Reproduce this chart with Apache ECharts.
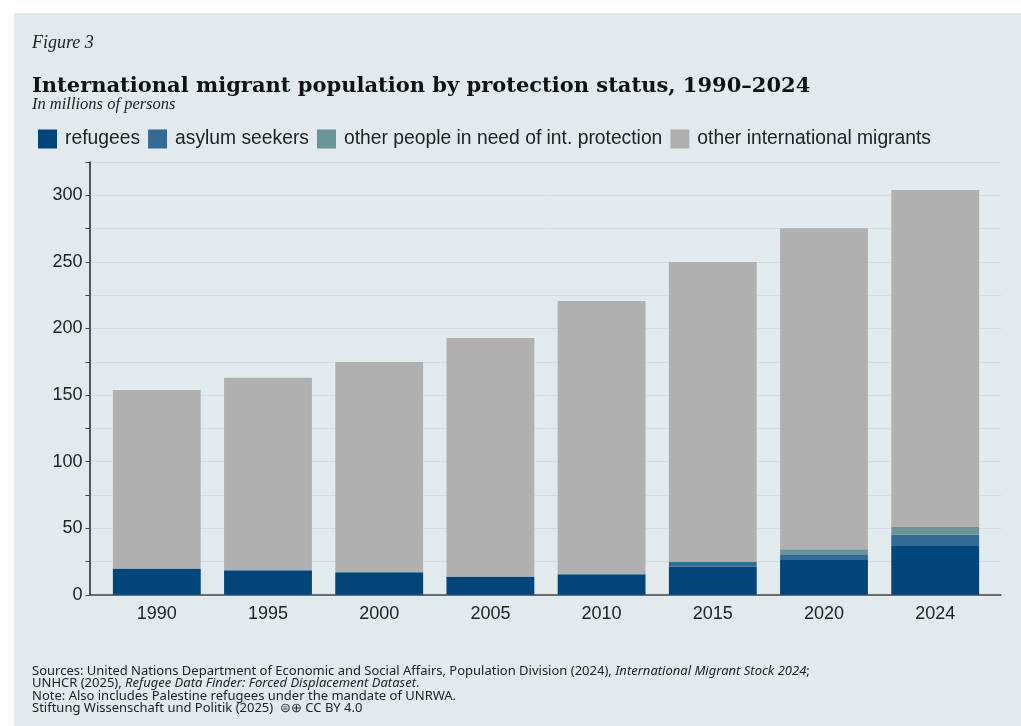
<!DOCTYPE html>
<html><head><meta charset="utf-8">
<script src="https://cdn.jsdelivr.net/npm/echarts@6/dist/echarts.min.js"></script>
<style>
html,body{margin:0;padding:0;background:#ffffff;}
#panel{position:absolute;left:14px;top:13px;width:1007px;height:713px;background:#e2eaee;}
#chart{position:absolute;left:0;top:0;width:1021px;height:726px;}
</style></head>
<body>
<div id="panel"></div>
<div id="chart"></div>
<script>
const years = ['1990','1995','2000','2005','2010','2015','2020','2024'];
const refugees = [19.5, 18.3, 16.6, 13.3, 15.3, 21.1, 26.1, 36.6];
const asylumSeekers = [0.3, 0.4, 0.5, 0.4, 0.6, 3.5, 4.3, 8.5];
const otherNeedProtection = [0, 0, 0, 0, 0, 0, 3.8, 5.8];
const totalMigrants = [153.8, 163.0, 174.8, 192.8, 220.6, 249.9, 275.2, 304.0];
const otherMigrants = totalMigrants.map((t, i) =>
  +(t - refugees[i] - asylumSeekers[i] - otherNeedProtection[i]).toFixed(1));
const yTicks = [0, 50, 100, 150, 200, 250, 300];

const chart = echarts.init(document.getElementById('chart'), null, {renderer: 'canvas'});
const serif = '"Liberation Serif", serif';
const dserif = '"DejaVu Serif", serif';
const sans = '"Liberation Sans", Arial, sans-serif';
const foot = '"Noto Sans", "Open Sans", sans-serif';
const colors = ['#01457a', '#346b94', '#6a9498', '#b0b0b0'];

const mk = (name, data, i) => ({
  name, type: 'bar', stack: 'total', data, xAxisIndex: 1, yAxisIndex: 1,
  barWidth: '79%', itemStyle: {color: colors[i]}, emphasis: {disabled: true}
});

chart.setOption({
  animation: false,
  color: colors,
  graphic: [
    {type: 'text', x: 32, y: 43.5, style: {text: 'Figure 3', font: 'italic 18px ' + serif, fill: '#222', verticalAlign: 'middle'}},
    {type: 'text', x: 32, y: 86.5, style: {text: 'International migrant population by protection status, 1990–2024', font: 'bold 21px ' + dserif, fill: '#111', verticalAlign: 'middle'}},
    {type: 'text', x: 32, y: 105, style: {text: 'In millions of persons', font: 'italic 16.5px ' + serif, fill: '#222', verticalAlign: 'middle'}},
    {type: 'text', x: 32, y: 665, style: {
      text: 'Sources: United Nations Department of Economic and Social Affairs, Population Division (2024), {i|International Migrant Stock 2024};\nUNHCR (2025), {i|Refugee Data Finder: Forced Displacement Dataset}.\nNote: Also includes Palestine refugees under the mandate of UNRWA.\nStiftung Wissenschaft und Politik (2025)  ⊜⊕ CC BY 4.0',
      font: '13px ' + foot, fill: '#222', lineHeight: 12.5, verticalAlign: 'top',
      rich: {i: {fontStyle: 'italic', fontFamily: foot, fontSize: 13, fill: '#222', lineHeight: 12.5}}
    }}
  ],
  legend: {
    left: 33, top: 124.5, itemWidth: 19, itemHeight: 19, itemGap: 8,
    icon: 'rect',
    textStyle: {fontFamily: sans, fontSize: 19.3, color: '#222', padding: [0, 0, 0, 3]},
    data: ['refugees', 'asylum seekers', 'other people in need of int. protection', 'other international migrants']
  },
  grid: [
    {left: 89.5, right: 20, top: 162, bottom: 131.2},
    {left: 101.2, right: 30.2, top: 162, bottom: 131.2}
  ],
  xAxis: [
    {type: 'category', gridIndex: 0, data: years, axisLabel: {show: false}, axisTick: {show: false},
     axisLine: {lineStyle: {color: '#444', width: 1.5}}},
    {type: 'category', gridIndex: 1, data: years, axisLine: {show: false}, axisTick: {show: false},
     axisLabel: {fontFamily: sans, fontSize: 18, color: '#222', margin: 10}}
  ],
  yAxis: [
    {type: 'value', gridIndex: 0, min: 0, max: 325, interval: 25,
     axisLine: {show: true, lineStyle: {color: '#222', width: 1.5}},
     axisTick: {show: true, length: 4, lineStyle: {color: '#444'}},
     axisLabel: {fontFamily: sans, fontSize: 18, color: '#222', margin: 7,
       formatter: v => yTicks.includes(v) ? String(v) : ''},
     splitLine: {lineStyle: {color: '#d3dce1', width: 1}}},
    {type: 'value', gridIndex: 1, min: 0, max: 325, show: false, splitLine: {show: false}}
  ],
  series: [
    mk('refugees', refugees, 0),
    mk('asylum seekers', asylumSeekers, 1),
    mk('other people in need of int. protection', otherNeedProtection, 2),
    mk('other international migrants', otherMigrants, 3)
  ]
});
</script>
</body></html>
